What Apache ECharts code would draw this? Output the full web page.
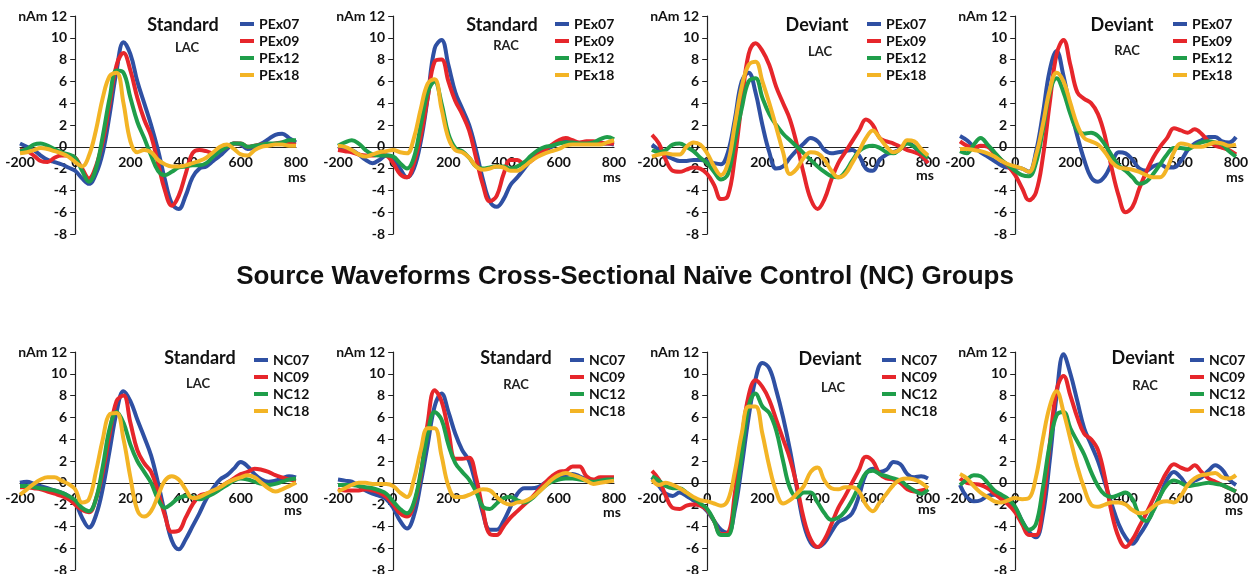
<!DOCTYPE html>
<html>
<head>
<meta charset="utf-8">
<script src="https://cdn.jsdelivr.net/npm/echarts@6/dist/echarts.min.js"></script>
<style>
html, body { margin: 0; padding: 0; background: #fff; }
#chart { width: 1250px; height: 574px; }
</style>
</head>
<body>
<div id="chart"></div>
<script>
// time points (ms)
const times = [-200, -175, -150, -125, -100, -75, -50, -25, 0, 25, 50, 75, 100, 125, 150, 175, 200, 225, 250, 275, 300,
    325, 350, 375, 400, 425, 450, 475, 500, 525, 550, 575, 600, 625, 650, 675, 700, 725, 750, 775, 800]
const xTicks = [-200, 0, 200, 400, 600, 800]
const yTicks = [-8, -6, -4, -2, 0, 2, 4, 6, 8, 10, 12]

const pexNames = ['PEx07', 'PEx09', 'PEx12', 'PEx18']
const ncNames = ['NC07', 'NC09', 'NC12', 'NC18']
const conditions = ['Standard', 'Standard', 'Deviant', 'Deviant']
const sides = ['LAC', 'RAC', 'LAC', 'RAC']
const mainTitle = 'Source Waveforms Cross-Sectional Naïve Control (NC) Groups'

// --- PEx, Standard LAC
const stdLacPEx07 = [0.3, 0.0, -0.3, -0.8, -1.2, -1.4, -1.6, -1.9, -2.2, -2.9, -3.4, -2.5, -0.5, 3.0, 7.0, 9.6, 8.5, 6.0, 4.0, 2.0, -0.3,
    -3.0, -5.2, -5.7, -4.5, -2.8, -2.0, -1.8, -1.3, -0.8, -0.2, 0.3, 0.2, -0.2, 0.0, 0.3, 0.7, 1.1, 1.2, 0.8, 0.4]
const stdLacPEx09 = [-0.3, -0.4, -0.8, -1.3, -1.4, -1.0, -0.8, -0.8, -1.0, -2.0, -2.9, -1.8, 0.5, 4.0, 7.5, 8.6, 7.0, 4.5, 2.5, 1.0, -1.5,
    -4.0, -5.4, -4.5, -2.5, -0.6, -0.3, -0.4, -0.6, -0.3, 0.0, 0.3, 0.3, 0.0, 0.1, 0.2, 0.2, 0.3, 0.4, 0.3, 0.2]
const stdLacPEx12 = [-0.4, -0.2, 0.2, 0.3, 0.1, -0.2, -0.5, -0.7, -1.0, -2.2, -3.2, -2.0, 1.0, 4.5, 7.0, 6.8, 4.5, 2.3, 0.8, -0.8, -2.2,
    -2.6, -2.3, -1.9, -1.8, -1.7, -1.7, -1.5, -0.9, -0.4, 0.0, 0.3, 0.3, 0.0, 0.1, 0.2, 0.3, 0.3, 0.4, 0.6, 0.6]
const stdLacPEx18 = [-0.6, -0.5, -0.3, -0.1, -0.2, -0.4, -0.6, -0.9, -1.4, -1.8, -0.8, 1.5, 4.5, 6.5, 6.8, 4.0, 0.5, -0.5, -0.3, -0.5, -1.2,
    -1.6, -1.8, -1.8, -1.7, -1.5, -1.3, -1.0, -0.5, 0.0, 0.2, -0.2, -0.7, -0.8, -0.3, 0.0, 0.1, 0.2, 0.2, 0.1, 0.1]

// --- PEx, Standard RAC
const stdRacPEx07 = [0.0, -0.1, -0.3, -0.7, -1.2, -1.5, -1.2, -0.8, -1.0, -2.0, -2.8, -2.0, 0.5, 4.5, 9.0, 9.8, 7.5, 5.0, 3.5, 2.0, -0.3,
    -3.0, -5.0, -5.5, -4.8, -3.5, -2.8, -2.0, -1.2, -0.6, -0.3, 0.0, 0.4, 0.6, 0.4, 0.3, 0.3, 0.3, 0.3, 0.3, 0.2]
const stdRacPEx09 = [-0.3, -0.4, -0.5, -0.7, -0.8, -0.8, -0.7, -0.8, -1.5, -2.5, -2.8, -1.5, 1.0, 4.5, 7.8, 8.0, 6.0, 4.2, 3.0, 1.5, -1.0,
    -3.5, -5.0, -4.5, -2.5, -1.2, -1.2, -1.6, -1.3, -0.7, -0.3, 0.2, 0.6, 0.8, 0.6, 0.4, 0.5, 0.5, 0.4, 0.3, 0.3]
const stdRacPEx12 = [0.1, 0.4, 0.6, 0.3, -0.3, -0.7, -0.8, -0.8, -0.9, -1.5, -2.0, -1.0, 2.0, 5.0, 6.0, 4.0, 1.2, -0.1, -0.4, -1.0, -1.8,
    -2.0, -1.9, -1.8, -1.8, -2.0, -1.8, -1.4, -0.8, -0.3, 0.0, 0.1, 0.3, 0.4, 0.4, 0.3, 0.3, 0.4, 0.7, 0.9, 0.7]
const stdRacPEx18 = [0.1, 0.0, -0.3, -0.7, -0.9, -0.7, -0.5, -0.4, -0.3, -0.5, -0.6, 0.8, 3.5, 5.8, 6.2, 3.5, 0.8, -0.3, -0.5, -1.0, -1.8,
    -2.1, -2.0, -1.8, -1.9, -2.2, -2.2, -1.8, -1.3, -0.9, -0.6, -0.4, -0.2, 0.1, 0.2, 0.2, 0.2, 0.2, 0.2, 0.4, 0.6]

// --- PEx, Deviant LAC
const devLacPEx07 = [0.2, -0.3, -0.8, -1.1, -1.3, -1.3, -1.2, -1.2, -1.3, -1.5, -1.6, -0.5, 2.5, 6.0, 6.8, 5.0, 2.0, -0.5, -2.0, -1.8, -1.0,
    -0.3, 0.3, 0.8, 0.5, -0.3, -0.6, -0.5, -0.4, -0.3, -0.8, -2.0, -2.2, -1.2, -0.7, -0.5, -0.2, 0.4, 0.0, -0.8, -1.5]
const devLacPEx09 = [1.1, 0.3, -1.2, -2.2, -2.3, -2.1, -1.9, -2.0, -2.5, -3.5, -4.8, -4.5, -1.0, 4.0, 8.5, 9.5, 8.8, 7.5, 5.5, 4.0, 2.5,
    0.2, -2.5, -4.8, -5.7, -4.8, -3.0, -1.5, -0.5, 0.5, 1.5, 2.5, 2.0, 0.8, 0.5, 0.3, 0.0, -0.3, -0.5, -0.8, -1.5]
const devLacPEx12 = [-0.3, -0.5, -0.3, 0.2, 0.3, 0.0, -0.4, -1.0, -1.5, -2.3, -3.0, -2.5, 0.5, 3.5, 6.0, 6.3, 4.5, 3.0, 2.0, 1.2, 0.6,
    0.0, -0.6, -1.2, -1.8, -2.3, -2.7, -2.8, -2.3, -1.3, -0.4, 0.0, 0.1, -0.1, -0.5, -0.6, -0.2, 0.3, 0.0, -0.5, -1.0]
const devLacPEx18 = [-0.9, -0.7, -0.6, -0.7, -0.7, 0.0, 0.4, 0.2, -0.6, -1.8, -2.6, -1.5, 2.0, 5.5, 7.5, 7.8, 6.0, 4.0, 1.8, -0.5, -2.5,
    -2.0, -1.0, -0.5, -0.6, -1.2, -2.2, -2.8, -2.5, -1.5, -0.4, 0.8, 1.5, 0.8, 0.0, -0.5, -0.2, 0.6, 0.5, -0.2, -0.8]

// --- PEx, Deviant RAC
const devRacPEx07 = [1.0, 0.6, 0.0, -0.5, -0.9, -1.3, -1.7, -1.9, -1.9, -2.0, -2.3, -0.5, 3.0, 7.0, 8.8, 6.5, 3.5, 1.0, -1.2, -2.8, -3.2,
    -2.7, -1.5, -0.5, -0.6, -1.2, -2.0, -2.2, -1.8, -1.6, -1.9, -1.9, -1.3, -0.3, 0.3, 0.6, 0.9, 0.9, 0.5, 0.4, 0.9]
const devRacPEx09 = [0.5, 0.1, -0.1, 0.1, 0.0, -0.6, -1.2, -1.8, -2.6, -3.8, -4.9, -4.2, -1.0, 4.0, 8.5, 9.8, 7.5, 5.0, 4.4, 4.0, 3.0,
    1.0, -2.0, -4.5, -6.0, -5.5, -3.8, -2.3, -1.0, 0.0, 0.8, 1.7, 1.5, 1.3, 1.6, 1.2, 0.5, 0.1, -0.1, -0.3, -0.7]
const devRacPEx12 = [-0.4, -0.6, 0.2, 0.8, 0.2, -0.5, -1.2, -1.7, -2.2, -2.6, -2.7, -1.5, 1.5, 5.0, 6.3, 5.0, 3.0, 1.5, 1.2, 1.3, 1.0,
    0.2, -0.8, -1.7, -2.2, -2.8, -3.4, -3.2, -2.5, -1.6, -0.7, -0.1, -0.1, -0.2, 0.1, 0.4, 0.5, 0.4, 0.2, -0.4, -0.9]
const devRacPEx18 = [-0.2, -0.2, -0.3, -0.4, -0.6, -0.9, -1.3, -1.6, -1.8, -2.0, -2.3, -0.8, 2.0, 5.2, 6.8, 6.0, 4.0, 2.0, 0.8, 0.5, 0.2,
    -0.5, -1.4, -1.9, -2.0, -2.1, -2.3, -2.6, -2.8, -2.8, -2.0, -0.5, 0.3, 0.2, 0.0, 0.0, 0.2, 0.4, 0.3, 0.1, 0.2]

// --- NC, Standard LAC
const stdLacNC07 = [0.0, 0.1, -0.1, -0.3, -0.5, -0.7, -0.9, -1.2, -1.8, -3.2, -4.1, -3.0, -0.5, 3.0, 6.5, 8.4, 7.5, 5.8, 4.2, 2.5, 0.0,
    -2.8, -5.3, -6.1, -5.2, -4.0, -2.8, -1.5, -0.5, 0.3, 0.7, 1.3, 1.9, 1.5, 0.8, 0.3, 0.1, 0.2, 0.4, 0.6, 0.5]
const stdLacNC09 = [-0.4, -0.4, -0.5, -0.6, -0.8, -1.0, -1.2, -1.5, -2.0, -2.5, -2.7, -1.5, 1.0, 4.5, 7.5, 8.0, 5.5, 3.0, 1.8, 1.0, -0.8,
    -3.0, -4.5, -4.4, -3.2, -2.0, -1.2, -1.0, -0.8, -0.4, 0.0, 0.4, 0.8, 1.0, 1.3, 1.2, 1.0, 0.7, 0.5, 0.3, 0.2]
const stdLacNC12 = [-0.3, -0.3, -0.4, -0.5, -0.6, -0.7, -0.9, -1.2, -1.6, -2.3, -2.6, -1.5, 1.5, 5.0, 6.5, 5.5, 3.5, 2.0, 1.0, 0.0, -1.5,
    -2.3, -1.9, -1.4, -1.2, -1.3, -1.5, -1.3, -1.0, -0.6, -0.2, 0.2, 0.4, 0.3, 0.1, -0.1, -0.2, -0.1, 0.1, 0.3, 0.4]
const stdLacNC18 = [-1.1, -0.6, -0.1, 0.3, 0.5, 0.5, 0.2, -0.1, -0.6, -1.8, -1.5, 1.0, 4.0, 6.3, 6.4, 4.0, 0.5, -2.5, -3.1, -2.6, -1.2,
    0.2, 0.6, 0.3, -0.6, -1.4, -1.3, -1.0, -0.7, -0.4, 0.0, 0.3, 0.5, 0.7, 0.5, 0.0, -0.5, -0.8, -0.6, -0.3, 0.0]

// --- NC, Standard RAC
const stdRacNC07 = [0.3, 0.2, 0.1, -0.3, -0.7, -1.0, -1.2, -1.5, -2.3, -3.5, -4.2, -3.0, 0.0, 3.5, 7.0, 8.2, 6.5, 4.5, 3.0, 2.0, -0.2,
    -2.8, -4.3, -4.3, -3.5, -2.2, -1.0, -0.5, -0.5, -0.4, 0.0, 0.3, 0.5, 0.7, 0.8, 0.6, 0.3, 0.0, 0.2, 0.4, 0.4]
const stdRacNC09 = [-0.6, -0.7, -0.7, -0.7, -0.6, -0.7, -0.9, -1.3, -2.0, -2.8, -3.1, -2.0, 0.8, 5.5, 8.5, 7.5, 4.8, 2.2, 2.2, 2.3, 0.5,
    -2.5, -4.7, -4.8, -4.0, -3.2, -2.6, -2.0, -1.4, -0.7, 0.0, 0.6, 1.0, 1.1, 1.5, 1.5, 0.6, 0.3, 0.5, 0.5, 0.5]
const stdRacNC12 = [-0.2, -0.2, -0.2, -0.3, -0.4, -0.5, -0.7, -1.0, -1.7, -2.4, -2.8, -1.8, 1.0, 4.5, 6.5, 5.8, 3.5, 1.8, 1.0, 0.3, -0.8,
    -2.2, -2.4, -1.9, -1.4, -1.3, -1.6, -1.8, -1.5, -0.9, -0.3, 0.1, 0.3, 0.4, 0.4, 0.3, 0.2, 0.1, 0.2, 0.3, 0.3]
const stdRacNC18 = [-0.8, -0.5, -0.2, 0.0, 0.0, -0.1, -0.1, -0.1, -0.3, -0.9, -1.3, 0.3, 3.0, 5.0, 5.0, 2.5, -0.3, -1.3, -1.3, -1.1, -0.8,
    -0.6, -0.7, -1.3, -1.8, -2.0, -1.8, -1.7, -1.4, -0.9, -0.3, 0.3, 0.7, 0.9, 0.7, 0.5, 0.2, -0.1, 0.0, 0.1, 0.2]

// --- NC, Deviant LAC
const devLacNC07 = [0.5, -0.3, -1.0, -1.2, -0.9, -1.2, -1.6, -2.0, -2.6, -3.5, -4.3, -4.6, -2.5, 1.5, 6.0, 9.5, 11.0, 10.5, 8.5, 6.0, 3.0,
    -0.5, -3.8, -5.5, -5.9, -5.5, -4.5, -3.6, -3.3, -2.8, -1.2, 0.8, 1.3, 1.0, 1.2, 1.9, 1.7, 0.8, 0.5, 0.6, 0.4]
const devLacNC09 = [1.1, 0.3, -1.2, -2.3, -2.4, -2.1, -2.0, -2.1, -2.5, -3.5, -4.7, -4.6, -1.0, 4.0, 8.0, 9.4, 8.8, 7.6, 5.8, 4.0, 2.2,
    -0.3, -3.3, -5.2, -5.9, -5.2, -3.8, -2.3, -1.2, 0.0, 1.2, 2.4, 2.0, 0.8, 0.4, 0.3, 0.0, -0.6, -0.8, -0.7, -0.6]
const devLacNC12 = [0.6, 0.2, -0.3, -0.5, -0.5, -0.9, -1.4, -1.9, -2.4, -3.5, -4.8, -4.8, -2.0, 2.5, 7.0, 8.2, 7.0, 6.4, 4.8, 2.0, -0.5,
    -1.3, -0.9, -0.9, -1.8, -2.8, -3.4, -3.2, -2.6, -1.6, -0.3, 0.9, 1.1, 0.8, 0.6, 0.4, 0.2, -0.3, -0.7, -1.0, -0.6]
const devLacNC18 = [0.3, -0.2, 0.0, -0.2, -0.5, -0.9, -1.3, -1.6, -1.7, -1.9, -2.1, -1.6, 1.0, 4.5, 7.0, 7.0, 4.5, 1.5, -0.8, -1.9, -1.6,
    -1.0, -0.3, 1.0, 1.4, 0.2, -0.5, -0.6, -0.4, -0.4, -0.8, -2.0, -2.6, -1.8, -1.0, -0.2, 0.3, 0.4, 0.3, 0.0, -0.5]

// --- NC, Deviant RAC
const devRacNC07 = [-0.2, -1.3, -1.7, -1.6, -1.2, -1.1, -1.4, -1.8, -2.3, -3.5, -4.5, -5.0, -3.0, 2.0, 8.0, 11.8, 10.0, 7.5, 5.0, 3.5, 2.0,
    0.0, -2.0, -3.8, -5.0, -5.6, -4.8, -3.8, -2.5, -1.2, 0.3, 1.0, 0.5, -0.2, 0.2, 0.5, 1.1, 1.6, 1.2, 0.3, -0.2]
const devRacNC09 = [0.4, 0.0, -0.1, -0.2, -0.5, -1.0, -1.5, -2.0, -2.7, -3.8, -4.8, -4.8, -2.0, 3.5, 8.5, 9.8, 8.0, 6.0, 4.5, 4.0, 3.0,
    0.5, -2.8, -5.0, -5.9, -5.2, -4.0, -2.8, -1.5, -0.2, 1.0, 1.7, 1.4, 1.2, 1.6, 1.0, 0.4, 0.1, -0.2, -0.5, -0.8]
const devRacNC12 = [-0.2, 0.3, 0.7, 0.6, 0.0, -0.7, -1.1, -1.5, -2.2, -3.5, -4.3, -3.8, -0.5, 3.5, 6.2, 6.5, 5.0, 3.8, 2.6, 1.0, -0.3,
    -1.1, -1.3, -1.1, -0.9, -1.5, -3.0, -3.5, -2.6, -1.2, -0.2, 0.2, 0.0, -0.3, -0.2, -0.1, 0.0, -0.1, -0.2, -0.5, -0.8]
const devRacNC18 = [0.8, 0.4, -0.3, -0.9, -1.3, -1.7, -1.8, -1.6, -1.4, -1.5, -1.4, 0.5, 4.0, 7.0, 8.4, 6.5, 4.0, 1.5, -0.5, -2.0, -2.2,
    -2.0, -1.8, -1.8, -2.0, -2.5, -2.8, -2.7, -2.2, -1.8, -1.7, -1.8, -1.2, -0.2, 0.4, 0.7, 0.8, 0.9, 0.5, 0.4, 0.7]

const panelSeries = [
    [stdLacPEx07, stdLacPEx09, stdLacPEx12, stdLacPEx18],
    [stdRacPEx07, stdRacPEx09, stdRacPEx12, stdRacPEx18],
    [devLacPEx07, devLacPEx09, devLacPEx12, devLacPEx18],
    [devRacPEx07, devRacPEx09, devRacPEx12, devRacPEx18],
    [stdLacNC07, stdLacNC09, stdLacNC12, stdLacNC18],
    [stdRacNC07, stdRacNC09, stdRacNC12, stdRacNC18],
    [devLacNC07, devLacNC09, devLacNC12, devLacNC18],
    [devRacNC07, devRacNC09, devRacNC12, devRacNC18]
]

// layout
const colors = ['#2f50a3', '#e6262b', '#1f9e4a', '#f3b425']
const font = 'Lato, "Liberation Sans", Arial, sans-serif'
const gridLeft = [20, 338, 652, 960]
const gridTop = [16, 352]
const gridW = 276
const gridH = 218
const legendLeft = [240, 555, 867, 1173, 254, 570, 882, 1190]
const condPos = [[183, 25], [502, 25], [817, 25], [1122, 25], [200, 358], [516, 358], [830, 359], [1143, 358]]
const sidePos = [[187, 48], [506, 46], [820, 52], [1127, 51], [198, 384], [516, 385], [833, 388], [1145, 386]]
const msPos = [[297, 177], [612, 177], [925, 175], [1235, 177], [293, 510], [612, 512], [927, 509], [1234, 510]]

// axes cross at (0, 0): shift them inwards from the grid edges
const xMin = xTicks[0], xMax = xTicks[xTicks.length - 1]
const yMin = yTicks[0], yMax = yTicks[yTicks.length - 1]
const yAxisShift = -gridW * (0 - xMin) / (xMax - xMin)
const xAxisShift = -gridH * (0 - yMin) / (yMax - yMin)

let myChart = echarts.init(document.getElementById('chart'))

let grids = [], xAxes = [], yAxes = [], series = [], legends = [], graphics = []

for (let p = 0; p < 8; p++) {
    let row = p < 4 ? 0 : 1
    let col = p % 4
    let names = row === 0 ? pexNames : ncNames
    grids.push({ left: gridLeft[col], top: gridTop[row], width: gridW, height: gridH, outerBoundsMode: 'none', containLabel: false })
    xAxes.push({
        type: 'value',
        gridIndex: p,
        position: 'bottom',
        offset: xAxisShift,
        min: xMin,
        max: xMax,
        interval: 200,
        axisLine: { onZero: false, lineStyle: { color: '#222', width: 1.2 } },
        axisTick: { show: false },
        splitLine: { show: false },
        axisLabel: { color: '#111', fontWeight: 'bold', fontSize: 14, fontFamily: font, margin: 9 }
    })
    yAxes.push({
        type: 'value',
        gridIndex: p,
        position: 'left',
        offset: yAxisShift,
        min: yMin,
        max: yMax,
        interval: 2,
        axisLine: { show: true, onZero: false, lineStyle: { color: '#222', width: 1.2 } },
        axisTick: { show: true, length: 5, lineStyle: { color: '#222' } },
        splitLine: { show: false },
        axisLabel: {
            color: '#111', fontWeight: 'bold', fontSize: 14, fontFamily: font, margin: 8,
            formatter: (v) => (v === 12 ? 'nAm 12' : v)
        }
    })
    panelSeries[p].forEach((vals, k) => {
        series.push({
            name: names[k],
            type: 'line',
            xAxisIndex: p,
            yAxisIndex: p,
            smooth: 0.4,
            showSymbol: false,
            lineStyle: { width: 4, color: colors[k] },
            itemStyle: { color: colors[k] },
            data: times.map((t, i) => [t, vals[i]])
        })
    })
    legends.push({
        data: names,
        orient: 'vertical',
        left: legendLeft[p],
        top: gridTop[row] + 1,
        padding: 0,
        icon: 'rect',
        itemWidth: 14,
        itemHeight: 4,
        itemGap: 3,
        itemTextGap: 1,
        textStyle: { color: '#111', fontWeight: 'bold', fontSize: 14, fontFamily: font, lineHeight: 14 }
    })
    graphics.push({
        type: 'text', x: condPos[p][0], y: condPos[p][1],
        style: { text: conditions[col], font: 'bold 18px ' + font, fill: '#111', textAlign: 'center', textVerticalAlign: 'middle' }
    })
    graphics.push({
        type: 'text', x: sidePos[p][0], y: sidePos[p][1],
        style: { text: sides[col], font: 'bold 13px ' + font, fill: '#222', textAlign: 'center', textVerticalAlign: 'middle' }
    })
    graphics.push({
        type: 'text', x: msPos[p][0], y: msPos[p][1],
        style: { text: 'ms', font: 'bold 14px ' + font, fill: '#111', textAlign: 'center', textVerticalAlign: 'middle' }
    })
}

let option = {
    animation: false,
    title: {
        text: mainTitle,
        left: 'center',
        top: 264,
        padding: 0,
        textStyle: { fontSize: 26, fontWeight: 'bold', color: '#111', fontFamily: '"Liberation Sans", Arial, sans-serif' }
    },
    legend: legends,
    grid: grids,
    xAxis: xAxes,
    yAxis: yAxes,
    series: series,
    graphic: graphics
}
myChart.setOption(option)
</script>
</body>
</html>
